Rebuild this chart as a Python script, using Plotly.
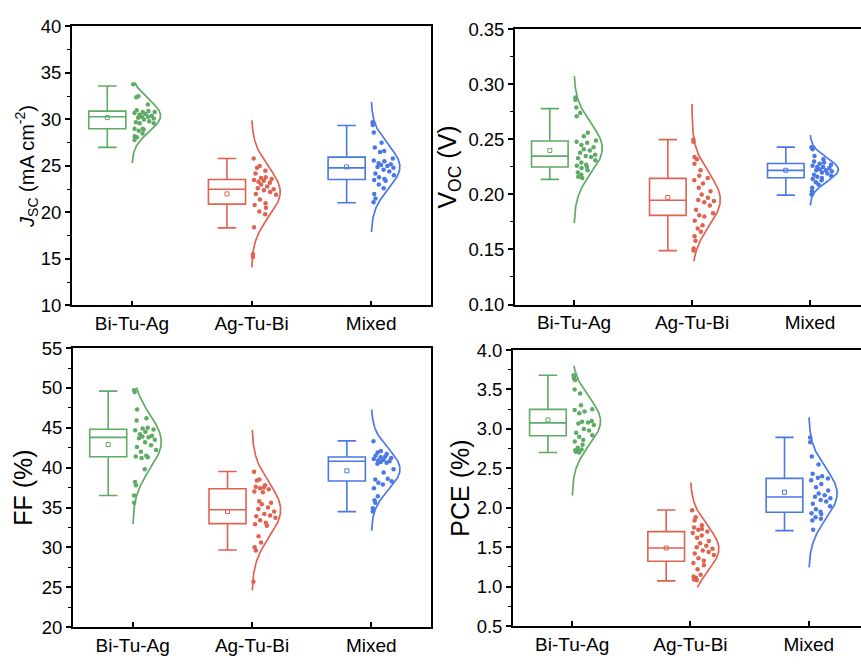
import numpy as np
import plotly.graph_objects as go

CATEGORIES = ["Bi-Tu-Ag", "Ag-Tu-Bi", "Mixed"]
COLORS = ["#5FAA64", "#E06250", "#4A78E6"]

# ---------------- JSC (mA cm-2) ----------------
JSC_POINTS = [
    [33.8, 32.5, 32.4, 31.6, 31.0, 30.9, 30.8, 30.8, 30.7, 30.6, 30.5, 30.4, 30.3, 30.3, 30.2,
     30.1, 30.0, 29.8, 29.7, 29.6, 29.6, 29.0, 29.0, 28.9, 28.8, 28.5, 28.2, 28.1, 27.8],
    [25.8, 25.0, 24.8, 24.5, 24.2, 23.8, 23.7, 23.6, 23.5, 23.4, 23.3, 23.2, 23.0, 22.8, 22.6,
     22.5, 22.4, 22.2, 22.0, 21.9, 21.4, 21.0, 20.8, 20.5, 20.1, 19.8, 18.4, 15.5, 15.2],
    [29.7, 29.4, 28.6, 27.5, 27.0, 26.6, 26.5, 25.8, 25.6, 25.5, 25.3, 25.2, 25.1, 25.0, 24.9,
     24.8, 24.6, 24.4, 24.2, 24.0, 23.8, 23.6, 23.5, 23.4, 23.0, 22.6, 22.0, 21.5, 21.1],
]
JSC_Q1 = [29.0, 20.9, 23.55]
JSC_MEDIAN = [30.3, 22.5, 24.8]
JSC_Q3 = [30.9, 23.55, 25.95]
JSC_LOW = [27.0, 18.35, 21.05]
JSC_HIGH = [33.6, 25.8, 29.35]
JSC_MEAN = [30.2, 22.0, 24.9]
JSC_FIT_MU = [30.4, 22.2, 24.9]
JSC_FIT_SD = [1.7, 2.65, 2.33]
JSC_FIT_LO = [25.3, 14.1, 17.9]
JSC_FIT_HI = [33.95, 29.9, 31.9]

# ---------------- VOC (V) ----------------
VOC_POINTS = [
    [0.288, 0.286, 0.279, 0.274, 0.271, 0.256, 0.253, 0.249, 0.248, 0.247, 0.245, 0.243, 0.241, 0.240, 0.238,
     0.236, 0.235, 0.234, 0.233, 0.231, 0.229, 0.227, 0.226, 0.225, 0.224, 0.222, 0.220, 0.218, 0.216, 0.215],
    [0.250, 0.248, 0.234, 0.232, 0.228, 0.222, 0.217, 0.215, 0.213, 0.210, 0.206, 0.203, 0.200, 0.197, 0.195,
     0.194, 0.193, 0.190, 0.186, 0.183, 0.181, 0.180, 0.176, 0.172, 0.169, 0.166, 0.162, 0.158, 0.151, 0.149],
    [0.243, 0.241, 0.235, 0.232, 0.230, 0.229, 0.228, 0.227, 0.226, 0.225, 0.225, 0.224, 0.223, 0.222, 0.222,
     0.221, 0.220, 0.219, 0.218, 0.217, 0.216, 0.215, 0.214, 0.213, 0.211, 0.209, 0.206, 0.203, 0.200],
]
VOC_Q1 = [0.225, 0.181, 0.2152]
VOC_MEDIAN = [0.2348, 0.1947, 0.2219]
VOC_Q3 = [0.2486, 0.2146, 0.2281]
VOC_LOW = [0.2137, 0.149, 0.1994]
VOC_HIGH = [0.278, 0.2498, 0.243]
VOC_MEAN = [0.240, 0.1973, 0.222]
VOC_FIT_MU = [0.242, 0.1953, 0.2225]
VOC_FIT_SD = [0.0223, 0.0238, 0.0107]
VOC_FIT_LO = [0.174, 0.1393, 0.190]
VOC_FIT_HI = [0.3075, 0.2823, 0.2539]

# ---------------- FF (%) ----------------
FF_POINTS = [
    [49.7, 49.5, 47.3, 46.2, 45.9, 45.0, 44.9, 44.8, 44.7, 44.5, 44.2, 44.0, 43.9, 43.8, 43.7,
     43.5, 43.2, 42.8, 42.6, 42.2, 42.0, 41.5, 41.4, 41.3, 41.2, 39.8, 38.2, 37.8, 36.5, 35.6],
    [39.5, 38.5, 38.4, 37.8, 37.6, 37.5, 37.4, 37.3, 37.0, 36.9, 35.8, 35.6, 35.4, 35.0, 34.8,
     34.5, 34.2, 34.0, 33.9, 33.7, 33.4, 33.1, 32.9, 32.7, 31.4, 30.6, 30.0, 29.6, 25.7],
    [43.3, 42.1, 41.9, 41.7, 41.5, 41.4, 41.3, 41.2, 41.1, 41.0, 40.9, 40.8, 40.7, 40.6, 40.5,
     39.8, 39.4, 38.6, 38.5, 38.3, 38.1, 37.9, 37.4, 36.4, 35.9, 35.6, 34.9, 34.5],
]
FF_Q1 = [41.37, 32.98, 38.33]
FF_MEDIAN = [43.8, 34.72, 40.8]
FF_Q3 = [44.82, 37.36, 41.33]
FF_LOW = [36.5, 29.66, 34.48]
FF_HIGH = [49.6, 39.51, 43.36]
FF_MEAN = [42.9, 34.5, 39.6]
FF_FIT_MU = [43.24, 34.7, 39.8]
FF_FIT_SD = [3.4, 3.35, 2.53]
FF_FIT_LO = [32.9, 24.6, 32.1]
FF_FIT_HI = [50.05, 44.74, 47.3]

# ---------------- PCE (%) ----------------
PCE_POINTS = [
    [3.68, 3.66, 3.64, 3.62, 3.50, 3.45, 3.30, 3.25, 3.24, 3.22, 3.20, 3.10, 3.09, 3.08, 3.07,
     3.05, 3.00, 2.98, 2.95, 2.92, 2.90, 2.86, 2.84, 2.80, 2.76, 2.74, 2.73, 2.72, 2.71, 2.70],
    [1.97, 1.88, 1.84, 1.78, 1.75, 1.73, 1.72, 1.70, 1.68, 1.65, 1.62, 1.58, 1.55, 1.52, 1.50,
     1.48, 1.46, 1.44, 1.42, 1.40, 1.36, 1.33, 1.30, 1.27, 1.22, 1.15, 1.13, 1.11, 1.09, 1.08],
    [2.89, 2.83, 2.65, 2.55, 2.43, 2.40, 2.38, 2.37, 2.35, 2.30, 2.26, 2.22, 2.18, 2.16, 2.14,
     2.12, 2.10, 2.08, 2.05, 2.02, 1.98, 1.95, 1.93, 1.92, 1.88, 1.86, 1.84, 1.72],
]
PCE_Q1 = [2.913, 1.322, 1.944]
PCE_MEDIAN = [3.076, 1.49, 2.136]
PCE_Q3 = [3.248, 1.698, 2.373]
PCE_LOW = [2.70, 1.073, 1.71]
PCE_HIGH = [3.68, 1.972, 2.892]
PCE_MEAN = [3.113, 1.49, 2.197]
PCE_FIT_MU = [3.097, 1.48, 2.18]
PCE_FIT_SD = [0.30, 0.29, 0.32]
PCE_FIT_LO = [2.156, 0.991, 1.245]
PCE_FIT_HI = [3.80, 2.32, 3.146]

# jitter pattern (fraction of half-violin width at the point's height)
JITTER = [0.10, 0.55, 0.30, 0.80, 0.15, 0.65, 0.40, 0.90, 0.05, 0.50, 0.25, 0.75, 0.35, 0.60, 0.20,
          0.85, 0.45, 0.70, 0.12, 0.95, 0.30, 0.58, 0.08, 0.68, 0.38, 0.82, 0.18, 0.50, 0.28, 0.72]

FONT = "Liberation Sans, Arial, sans-serif"
BOX_OFFSET = 0.205
BOX_WIDTH = 0.31
VIOLIN_W = 0.24

panels = [
    dict(points=JSC_POINTS, q1=JSC_Q1, med=JSC_MEDIAN, q3=JSC_Q3, lo=JSC_LOW, hi=JSC_HIGH, mean=JSC_MEAN,
         mu=JSC_FIT_MU, sd=JSC_FIT_SD, flo=JSC_FIT_LO, fhi=JSC_FIT_HI,
         yrange=[10, 40], dtick=5, fmt="d", title="<i>J</i><sub>SC</sub> (mA cm<sup>-2</sup>)", tsize=20,
         xdom=[72 / 861, 431 / 861], ydom=[1 - 304 / 670, 1 - 16 / 670], xr=[0.5, 3.5], ymirror=True, standoff=0),
    dict(points=VOC_POINTS, q1=VOC_Q1, med=VOC_MEDIAN, q3=VOC_Q3, lo=VOC_LOW, hi=VOC_HIGH, mean=VOC_MEAN,
         mu=VOC_FIT_MU, sd=VOC_FIT_SD, flo=VOC_FIT_LO, fhi=VOC_FIT_HI,
         yrange=[0.10, 0.35], dtick=0.05, fmt=".2f", title="V<sub>OC</sub> (V)", tsize=25,
         xdom=[515 / 861, 1.0], ydom=[1 - 303 / 670, 1 - 19 / 670], xr=[0.5, 0.5 + 346 / 118], ymirror=False, standoff=5),
    dict(points=FF_POINTS, q1=FF_Q1, med=FF_MEDIAN, q3=FF_Q3, lo=FF_LOW, hi=FF_HIGH, mean=FF_MEAN,
         mu=FF_FIT_MU, sd=FF_FIT_SD, flo=FF_FIT_LO, fhi=FF_FIT_HI,
         yrange=[20, 55], dtick=5, fmt="d", title="FF (%)", tsize=25,
         xdom=[73 / 861, 431 / 861], ydom=[1 - 636 / 670, 1 - 348 / 670], xr=[0.5, 3.5], ymirror=True, standoff=2),
    dict(points=PCE_POINTS, q1=PCE_Q1, med=PCE_MEDIAN, q3=PCE_Q3, lo=PCE_LOW, hi=PCE_HIGH, mean=PCE_MEAN,
         mu=PCE_FIT_MU, sd=PCE_FIT_SD, flo=PCE_FIT_LO, fhi=PCE_FIT_HI,
         yrange=[0.5, 4.0], dtick=0.5, fmt=".1f", title="PCE (%)", tsize=25,
         xdom=[513 / 861, 1.0], ydom=[1 - 635 / 670, 1 - 350 / 670], xr=[0.5, 0.5 + 348 / 118.3], ymirror=False, standoff=0),
]

fig = go.Figure()
layout = dict(
    width=861, height=670, margin=dict(l=0, r=0, t=0, b=0),
    paper_bgcolor="white", plot_bgcolor="white", showlegend=False, boxmode="overlay",
    font=dict(family=FONT, color="black", size=18),
)

for p_i, p in enumerate(panels):
    n = "" if p_i == 0 else str(p_i + 1)
    xa, ya = "x" + n, "y" + n
    for g in range(3):
        col = COLORS[g]
        pos = g + 1
        # box (precomputed statistics)
        fig.add_trace(go.Box(
            x=[pos - BOX_OFFSET], q1=[p["q1"][g]], median=[p["med"][g]], q3=[p["q3"][g]],
            lowerfence=[p["lo"][g]], upperfence=[p["hi"][g]],
            width=BOX_WIDTH, whiskerwidth=0.5, boxpoints=False,
            line=dict(color=col, width=1.6), fillcolor="rgba(0,0,0,0)",
            xaxis=xa, yaxis=ya, hoverinfo="skip"))
        # mean marker
        fig.add_trace(go.Scatter(
            x=[pos - BOX_OFFSET], y=[p["mean"][g]], mode="markers",
            marker=dict(symbol="square-open", size=4, color=col, line=dict(width=1)),
            xaxis=xa, yaxis=ya, hoverinfo="skip"))
        # half-violin normal curve
        mu, sd = p["mu"][g], p["sd"][g]
        yy = np.linspace(p["flo"][g], p["fhi"][g], 200)
        ww = VIOLIN_W * np.exp(-0.5 * ((yy - mu) / sd) ** 2)
        fig.add_trace(go.Scatter(
            x=pos + ww, y=yy, mode="lines", line=dict(color=col, width=1.7),
            xaxis=xa, yaxis=ya, hoverinfo="skip"))
        # data points inside the half violin
        pts = np.array(p["points"][g], dtype=float)
        wp = VIOLIN_W * np.exp(-0.5 * ((pts - mu) / sd) ** 2)
        fr = np.array(JITTER[:len(pts)])
        xp = pos + 0.012 + fr * np.clip(wp - 0.035, 0, None)
        fig.add_trace(go.Scatter(
            x=xp, y=pts, mode="markers",
            marker=dict(size=4.5, color=col, line=dict(width=0)),
            xaxis=xa, yaxis=ya, hoverinfo="skip"))

    xkey = "xaxis" + n
    ykey = "yaxis" + n
    layout[xkey] = dict(
        domain=p["xdom"], range=p["xr"], anchor=ya,
        tickmode="array", tickvals=[1, 2, 3], ticktext=CATEGORIES,
        ticks="inside", ticklen=5, tickwidth=1.5, tickcolor="black",
        showline=True, linewidth=1.8, linecolor="black", mirror=True,
        showgrid=False, zeroline=False, tickfont=dict(size=19, family=FONT, color="black"),
        fixedrange=True)
    layout[ykey] = dict(
        domain=p["ydom"], range=p["yrange"], anchor=xa,
        tick0=p["yrange"][0], dtick=p["dtick"], tickformat=p["fmt"],
        ticks="outside", ticklen=5, tickwidth=1.5, tickcolor="black",
        minor=dict(ticks="outside", ticklen=3, tickwidth=1.2, tickcolor="black", dtick=p["dtick"] / 2),
        showline=True, linewidth=1.8, linecolor="black", mirror=p["ymirror"],
        showgrid=False, zeroline=False, tickfont=dict(size=18.5, family=FONT, color="black"),
        title=dict(text=p["title"], font=dict(size=p["tsize"], family=FONT, color="black"), standoff=p["standoff"]),
        fixedrange=True)

fig.update_layout(**layout)
fig.write_html("out.html")
